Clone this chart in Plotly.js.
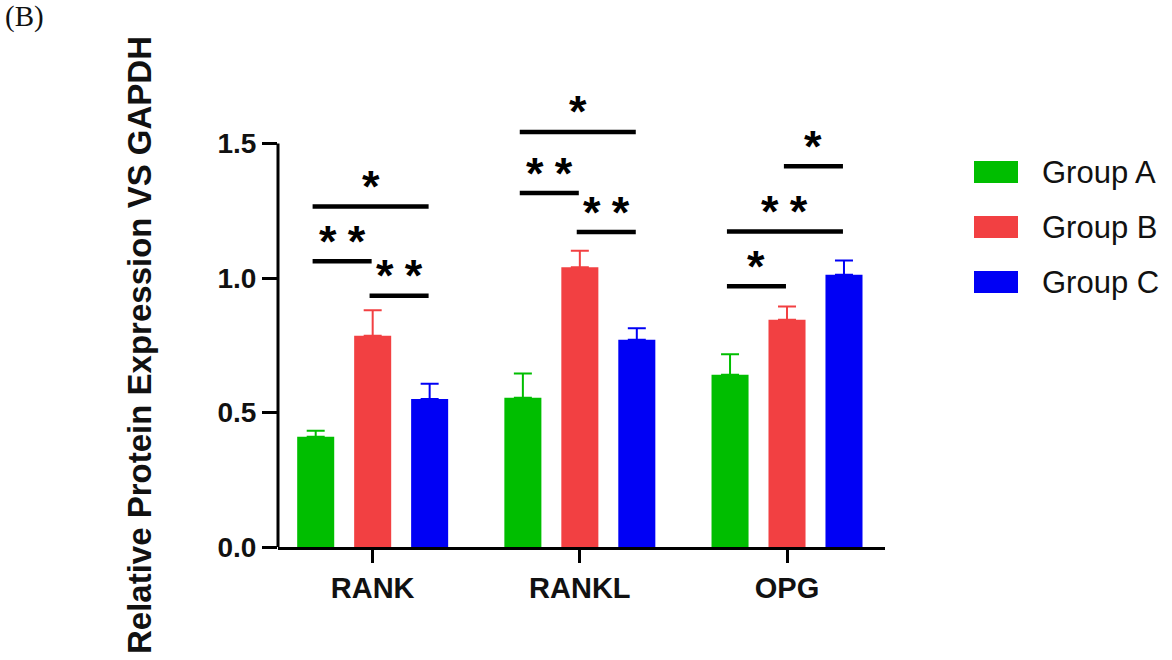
<!DOCTYPE html>
<html>
<head>
<meta charset="utf-8">
<script src="https://cdn.plot.ly/plotly-3.0.1.min.js"></script>
<style>html,body{margin:0;padding:0;background:#fff;}#chart{width:1172px;height:660px;}</style>
</head>
<body>
<div id="chart"></div>
<script>
// ---- data ----
const categories = ['RANK', 'RANKL', 'OPG'];
const groupNames = ['Group A', 'Group B', 'Group C'];
const groupA = [0.41, 0.555, 0.64];
const groupB = [0.785, 1.04, 0.845];
const groupC = [0.55, 0.77, 1.012];
const errA = [0.022, 0.09, 0.077];
const errB = [0.095, 0.061, 0.049];
const errC = [0.057, 0.043, 0.053];
const yTickVals = [0, 0.5, 1.0, 1.5];
const yTickText = ['0.0', '0.5', '1.0', '1.5'];
// significance brackets: category index, from group, to group, level, label
const sigCat = [0, 0, 0, 1, 1, 1, 2, 2, 2];
const sigFrom = [0, 1, 0, 0, 1, 0, 0, 0, 1];
const sigTo = [1, 2, 2, 1, 2, 2, 1, 2, 2];
const sigLevel = [1.062, 0.934, 1.266, 1.316, 1.171, 1.543, 0.969, 1.173, 1.415];
const sigLabel = ['**', '**', '*', '**', '**', '*', '*', '**', '*'];
const panelLabel = '(B)';
const yTitle = 'Relative Protein Expression VS GAPDH';

// ---- style ----
const colors = ['#00BE00', '#F24042', '#0000F5'];
const W = 1172, H = 660, L = 278, R = 287, T = 60, B = 113;
const pxX = px => (px - L) / (W - L - R);
const pxY = py => (H - B - py) / (H - T - B);
const yTop = (H - T - B) / 269;
const slot = 0.275;

const series = [groupA, groupB, groupC];
const errs = [errA, errB, errC];
const traces = series.map((vals, i) => ({
  type: 'bar',
  name: groupNames[i],
  x: categories,
  y: vals,
  marker: {color: colors[i], line: {width: 0}},
  error_y: {type: 'data', symmetric: false, array: errs[i], arrayminus: vals.map(() => 0),
            color: colors[i], thickness: 2, width: 9},
  showlegend: false,
  hoverinfo: 'skip'
}));

const shapes = [];
const annotations = [];
// y axis line 0..1.5
shapes.push({type: 'line', xref: 'paper', yref: 'y', x0: 0, x1: 0, y0: 0, y1: yTickVals[yTickVals.length - 1],
  line: {color: '#000', width: 3}});

sigCat.forEach((c, i) => {
  const x0 = c + (sigFrom[i] - 1) * slot - 0.015;
  const x1 = c + (sigTo[i] - 1) * slot - 0.005;
  shapes.push({type: 'line', xref: 'x', yref: 'y', x0: x0, x1: x1, y0: sigLevel[i], y1: sigLevel[i],
    line: {color: '#000', width: 4.5}});
  annotations.push({xref: 'x', yref: 'y', x: (x0 + x1) / 2, y: sigLevel[i], yanchor: 'middle',
    yshift: 20, showarrow: false, text: sigLabel[i].split('').join('\u2005'),
    font: {family: 'Liberation Sans, Arial', size: 45, color: '#000', weight: 700}});
});

// legend drawn manually
groupNames.forEach((g, i) => {
  const cy = 172 + i * 55;
  shapes.push({type: 'rect', xref: 'paper', yref: 'paper', x0: pxX(974), x1: pxX(1018),
    y0: pxY(cy + 11), y1: pxY(cy - 11), fillcolor: colors[i], line: {width: 0}});
  annotations.push({xref: 'paper', yref: 'paper', x: pxX(1040), y: pxY(cy), xanchor: 'left', yanchor: 'middle',
    showarrow: false, text: g, font: {family: 'Liberation Sans, Arial', size: 31, color: '#111'}});
});

annotations.push({xref: 'paper', yref: 'paper', x: pxX(3), y: pxY(-2), xanchor: 'left', yanchor: 'top',
  showarrow: false, text: panelLabel, font: {family: 'Liberation Serif, Times New Roman', size: 29, color: '#111'}});

// y axis title as rotated annotation
annotations.push({xref: 'paper', yref: 'paper', x: pxX(139), y: pxY(345), xanchor: 'center', yanchor: 'middle',
  textangle: -90, showarrow: false, text: yTitle,
  font: {family: 'Liberation Sans, Arial', size: 33, color: '#111', weight: 700}});

const layout = {
  width: W, height: H,
  margin: {l: L, r: R, t: T, b: B, pad: 0},
  paper_bgcolor: '#fff', plot_bgcolor: '#fff',
  barmode: 'group', bargap: 0.175, bargroupgap: 0.35,
  showlegend: false,
  xaxis: {
    type: 'category', range: [-0.457, 2.473], showgrid: false, zeroline: false,
    showline: true, linecolor: '#000', linewidth: 3,
    ticks: 'outside', ticklen: 13, tickwidth: 3, tickcolor: '#000',
    tickfont: {family: 'Liberation Sans, Arial', size: 29, color: '#111', weight: 700},
    fixedrange: true
  },
  yaxis: {
    range: [0, yTop], showgrid: false, zeroline: false, showline: false,
    tickvals: yTickVals, ticktext: yTickText,
    ticks: 'outside', ticklen: 15, tickwidth: 3, tickcolor: '#000',
    tickfont: {family: 'Liberation Sans, Arial', size: 28, color: '#111', weight: 700},
    fixedrange: true
  },
  shapes: shapes,
  annotations: annotations
};

Plotly.newPlot('chart', traces, layout, {displayModeBar: false, staticPlot: true});
</script>
</body>
</html>
